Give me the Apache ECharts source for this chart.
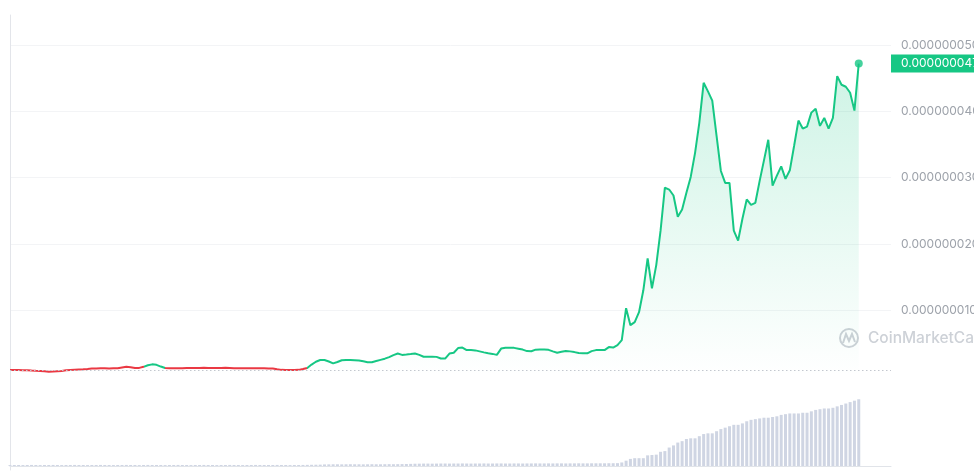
<!DOCTYPE html>
<html>
<head>
<meta charset="utf-8">
<script src="https://cdn.jsdelivr.net/npm/echarts@6/dist/echarts.min.js"></script>
<style>
  html, body { margin: 0; padding: 0; background: #ffffff; }
  #chart { width: 974px; height: 473px; }
</style>
</head>
<body>
<div id="chart"></div>
<script>
// Price history, one value per period, in units of 1e-9 USD
const priceUnit = 1e-9;
const prices = [
  0.98,0.98,0.98,0.95,0.95,0.90,0.86,0.83,0.78,0.72,
  0.75,0.80,0.83,0.93,0.98,1.02,1.05,1.08,1.13,1.19,
  1.22,1.23,1.23,1.20,1.23,1.23,1.35,1.47,1.40,1.28,
  1.30,1.46,1.70,1.83,1.76,1.50,1.28,1.23,1.23,1.25,
  1.25,1.28,1.28,1.30,1.30,1.32,1.30,1.28,1.28,1.30,
  1.32,1.28,1.23,1.23,1.25,1.25,1.23,1.23,1.25,1.23,
  1.20,1.19,1.08,1.00,0.98,0.98,0.98,1.00,1.13,
  1.28,1.80,2.23,2.48,2.48,2.26,1.98,2.18,2.45,2.48,
  2.48,2.45,2.41,2.30,2.14,2.15,2.33,2.51,2.69,2.93,
  3.23,3.46,3.26,3.31,3.38,3.46,3.26,2.98,2.98,2.98,
  2.96,2.71,2.71,3.46,3.58,4.29,4.36,3.98,3.98,3.94,
  3.79,3.64,3.50,3.41,3.26,4.21,4.33,4.33,4.32,4.20,
  4.06,3.83,3.80,4.05,4.09,4.09,4.02,3.79,3.58,3.73,
  3.86,3.79,3.68,3.53,3.49,3.49,3.83,3.98,3.98,
  3.98,4.44,4.36,4.74,5.49,10.3,7.74,8.20,9.70,13.0,
  17.8,13.3,16.8,22.0,28.5,28.2,27.3,24.1,25.2,27.7,
  30.1,33.7,38.3,44.3,43.0,41.6,36.3,31.0,29.2,29.2,
  22.0,20.5,23.8,26.7,25.9,26.2,29.5,32.6,35.7,28.8,
  30.3,31.7,29.8,31.1,34.8,38.6,37.4,37.7,39.8,40.4,
  37.8,39.0,37.4,39.0,45.3,44.0,43.7,42.8,40.1,47.2
];

// Traded volume per period, relative scale 0-100
const volumes = [
  1.3,1.4,1.4,1.3,1.4,1.5,1.4,1.3,1.4,1.4,
  1.5,1.4,1.3,1.4,1.4,1.5,1.4,1.4,1.3,1.4,
  1.4,1.5,1.4,1.4,1.3,1.4,1.4,1.5,1.4,1.4,
  1.3,1.4,1.5,1.4,1.4,1.4,1.3,1.4,1.4,1.5,
  1.4,1.4,1.3,1.4,1.4,1.5,1.4,1.4,1.3,1.4,
  1.4,1.5,1.4,1.4,1.3,1.4,1.4,1.5,1.4,1.4,
  1.4,1.4,1.5,1.4,1.4,1.3,1.4,1.4,1.5,1.6,
  1.7,1.8,1.9,
  2.2,2.3,2.4,2.4,2.3,2.4,2.5,2.4,2.4,2.3,
  2.4,2.5,2.4,2.4,2.5,2.6,2.5,2.6,2.7,2.8,3.0,
  3.2,3.3,3.4,3.4,3.3,3.4,3.5,3.5,3.4,3.5,
  3.5,3.6,3.5,3.4,3.5,3.5,3.6,3.5,3.5,3.6,
  3.6,3.5,3.5,3.6,3.6,3.5,3.6,3.6,3.7,3.6,
  3.6,3.7,3.6,3.7,3.7,3.6,3.7,3.7,3.8,3.7,
  3.7,3.8,3.8,3.8,
  3.8,3.9,3.9,4.0,
  5.0,7.5,10,11,11,11,
  15,15.5,16,
  20,21,26,29,33,35,38,39,39,42,
  45,46,46,49,52,54,56,58,58,60,
  63,65,66,67,68,68,69,70,72,73,
  74,74,74,75,75,77,79,80,81,81,
  82,84,86,88,90,92,94
];

// Price axis ticks, in the same 1e-9 units as the prices
const priceTicks = [0, 10, 20, 30, 40, 50];

// Periods where the line is drawn in the "down" colour
const downRanges = [[0, 31], [36, 69]];

const GREEN = '#16c784';
const RED = '#ea3943';

const pricePoints = prices.map((v, i) => [i, v]);
const volumePoints = volumes.map((v, i) => [i, v]);
const lastIndex = prices.length - 1;
const lastPrice = prices[lastIndex];
const openPrice = prices[0];
const xMax = lastIndex * 1.038;

const pieces = [];
let cursor = 0;
downRanges.forEach(([a, b]) => {
  if (a > cursor) pieces.push({ gte: cursor, lt: a, color: GREEN });
  pieces.push({ gte: a, lt: b, color: RED });
  cursor = b;
});
pieces.push({ gte: cursor, color: GREEN });

// Show a price in USD with nine decimals
const fmt = v => (Number(v) * priceUnit).toFixed(9);
const labelFont = 'Inter, "Noto Sans", sans-serif';

const chart = echarts.init(document.getElementById('chart'), null, { renderer: 'canvas' });

const gridBase = { left: 10, right: 83, containLabel: false, outerBoundsMode: 'none' };

chart.setOption({
  animation: false,
  backgroundColor: '#ffffff',
  grid: [
    Object.assign({ top: 45, bottom: 96.5 }, gridBase),
    Object.assign({ top: 395, bottom: 7 }, gridBase),
    Object.assign({ top: 15, bottom: 3 }, gridBase)
  ],
  xAxis: [
    { type: 'value', gridIndex: 0, min: 0, max: xMax, show: false },
    {
      type: 'value', gridIndex: 1, min: 0, max: xMax,
      axisLine: { show: true, lineStyle: { color: '#e1e4e9', width: 1 } },
      axisTick: { show: false }, axisLabel: { show: false }, splitLine: { show: false }
    },
    { type: 'value', gridIndex: 2, min: 0, max: 1, show: false }
  ],
  yAxis: [
    {
      type: 'value', gridIndex: 0, position: 'right',
      min: priceTicks[0], max: priceTicks[priceTicks.length - 1],
      interval: priceTicks[1] - priceTicks[0],
      axisLine: { show: false }, axisTick: { show: false },
      axisLabel: {
        show: true, margin: 10, showMinLabel: false,
        color: '#9da2aa', fontSize: 12, fontFamily: labelFont,
        formatter: fmt
      },
      splitLine: { show: true, showMinLine: false, lineStyle: { color: '#f3f4f6', width: 1 } }
    },
    { type: 'value', gridIndex: 1, min: 0, max: 100, show: false },
    {
      type: 'value', gridIndex: 2, position: 'right', min: 0, max: 1,
      axisLine: { show: true, lineStyle: { color: '#e3e5ea', width: 1 } },
      axisTick: { show: false }, axisLabel: { show: false }, splitLine: { show: false }
    }
  ],
  visualMap: {
    type: 'piecewise', show: false, seriesIndex: 0, dimension: 0,
    pieces: pieces
  },
  series: [
    {
      type: 'line',
      xAxisIndex: 0, yAxisIndex: 0,
      data: pricePoints,
      showSymbol: false,
      lineStyle: { width: 2 },
      areaStyle: {
        color: new echarts.graphic.LinearGradient(0, 0, 0, 1, [
          { offset: 0, color: 'rgba(22,199,132,0.30)' },
          { offset: 0.6, color: 'rgba(22,199,132,0.12)' },
          { offset: 1, color: 'rgba(22,199,132,0.0)' }
        ])
      },
      markLine: {
        silent: true,
        symbol: ['none', 'none'],
        animation: false,
        precision: 4,
        data: [
          {
            yAxis: openPrice,
            lineStyle: { color: '#c3c7ce', width: 1, type: [1.5, 2.5] },
            label: { show: false }
          },
          {
            yAxis: lastPrice,
            lineStyle: { color: 'rgba(0,0,0,0)', width: 0 },
            label: {
              show: true, position: 'end', distance: 0,
              formatter: p => fmt(p.value),
              color: '#ffffff', backgroundColor: GREEN,
              fontSize: 12, fontFamily: labelFont,
              padding: [3, 6, 3, 10]
            }
          }
        ]
      },
      z: 3
    },
    {
      type: 'scatter',
      xAxisIndex: 0, yAxisIndex: 0,
      data: [pricePoints[lastIndex]],
      symbolSize: 8,
      itemStyle: { color: GREEN },
      z: 4
    },
    {
      type: 'bar',
      xAxisIndex: 1, yAxisIndex: 1,
      data: volumePoints,
      barWidth: 3,
      itemStyle: { color: '#cfd5e3' }
    }
  ],
  graphic: [
    {
      type: 'circle',
      shape: { cx: 849, cy: 338, r: 9 },
      style: { fill: 'none', stroke: '#cdd1d7', lineWidth: 2 },
      silent: true
    },
    {
      type: 'polyline',
      shape: { points: [[843, 343], [846, 334], [849, 341], [852, 334], [855, 342]] },
      style: { fill: 'none', stroke: '#cdd1d7', lineWidth: 2 },
      silent: true
    },
    {
      type: 'text',
      x: 868, y: 338,
      style: {
        text: 'CoinMarketCap',
        fill: '#cdd1d7',
        font: '500 15.5px Inter, "Noto Sans", sans-serif',
        verticalAlign: 'middle'
      },
      silent: true
    }
  ]
});
</script>
</body>
</html>
